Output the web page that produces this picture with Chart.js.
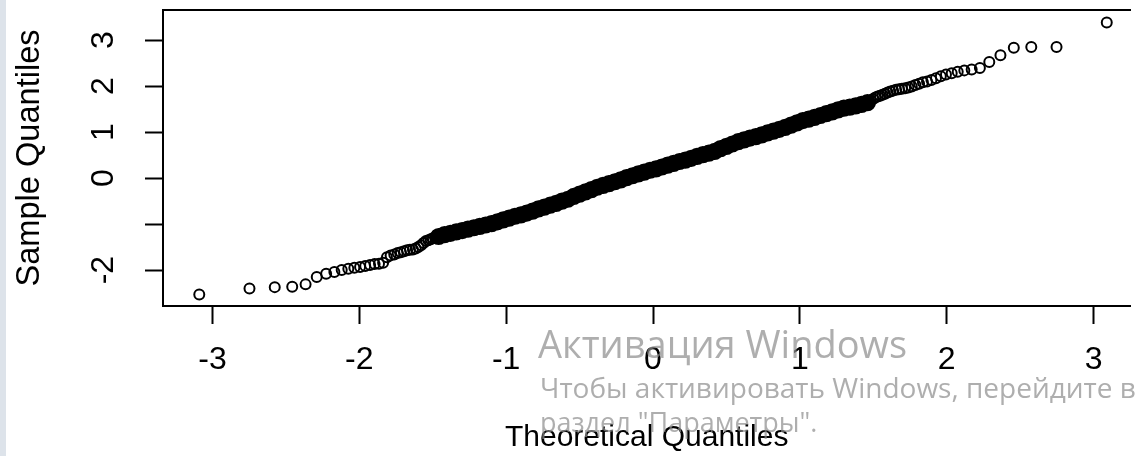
<!DOCTYPE html>
<html><head><meta charset="utf-8">
<script src="https://cdn.jsdelivr.net/npm/chart.js@4.4.0/dist/chart.umd.min.js"></script>
<style>
html,body{margin:0;padding:0;background:#fff;}
#wrap{position:relative;width:1140px;height:456px;overflow:hidden;background:#fff;}
#c{position:absolute;left:0;top:0;}
#bar{position:absolute;left:0;top:0;width:6px;height:456px;background:#dde3ea;}
.wm{position:absolute;color:rgba(140,140,140,0.7);font-family:"Open Sans","Noto Sans",sans-serif;white-space:nowrap;pointer-events:none;line-height:1;}
</style></head><body>
<div id="wrap"><canvas id="c" width="1140" height="456"></canvas><div id="bar"></div>
<div class="wm" style="left:538px;top:324px;font-size:38px;">Активация Windows</div>
<div class="wm" style="left:540px;top:373px;font-size:28px;">Чтобы активировать Windows, перейдите в</div>
<div class="wm" style="left:540px;top:408px;font-size:27px;">раздел "Параметры".</div>
</div>
<script>
const leftTailTheo = [-3.090,-2.748,-2.576,-2.457,-2.366,-2.290,-2.226,-2.170,-2.120,-2.075,-2.034,-1.995,-1.960,-1.927,-1.896,-1.866,-1.838,-1.812,-1.787,-1.762,-1.739,-1.717,-1.695,-1.675,-1.655,-1.635,-1.616,-1.598,-1.580,-1.563,-1.546,-1.530,-1.514,-1.499,-1.483];
const leftTailSample = [-2.53,-2.40,-2.37,-2.36,-2.31,-2.15,-2.08,-2.04,-2.00,-1.97,-1.95,-1.93,-1.91,-1.89,-1.87,-1.86,-1.84,-1.72,-1.68,-1.66,-1.63,-1.61,-1.59,-1.57,-1.56,-1.55,-1.53,-1.50,-1.46,-1.41,-1.37,-1.35,-1.33,-1.31,-1.29];
const bandTheo = [-1.46,-1.42,-1.38,-1.34,-1.30,-1.26,-1.22,-1.18,-1.14,-1.10,-1.06,-1.02,-0.98,-0.94,-0.90,-0.86,-0.82,-0.78,-0.74,-0.70,-0.66,-0.62,-0.58,-0.54,-0.50,-0.46,-0.42,-0.38,-0.34,-0.30,-0.26,-0.22,-0.18,-0.14,-0.10,-0.06,-0.02,0.02,0.06,0.10,0.14,0.18,0.22,0.26,0.30,0.34,0.38,0.42,0.46,0.50,0.54,0.58,0.62,0.66,0.70,0.74,0.78,0.82,0.86,0.90,0.94,0.98,1.02,1.06,1.10,1.14,1.18,1.22,1.26,1.30,1.34,1.38,1.42,1.46];
const bandSample = [-1.27,-1.23,-1.20,-1.17,-1.14,-1.11,-1.08,-1.05,-1.02,-0.99,-0.95,-0.91,-0.87,-0.83,-0.80,-0.76,-0.72,-0.67,-0.63,-0.59,-0.55,-0.50,-0.46,-0.40,-0.35,-0.30,-0.25,-0.20,-0.16,-0.12,-0.08,-0.04,0.01,0.05,0.09,0.13,0.17,0.20,0.24,0.28,0.32,0.36,0.39,0.43,0.47,0.51,0.54,0.58,0.64,0.69,0.74,0.79,0.83,0.87,0.90,0.94,0.98,1.02,1.06,1.10,1.15,1.20,1.25,1.28,1.32,1.36,1.40,1.44,1.48,1.52,1.54,1.57,1.60,1.64];
const rightTailTheo = [1.483,1.499,1.514,1.530,1.546,1.563,1.580,1.598,1.616,1.635,1.655,1.675,1.695,1.717,1.739,1.762,1.787,1.812,1.838,1.866,1.896,1.927,1.960,1.995,2.034,2.075,2.120,2.170,2.226,2.290,2.366,2.457,2.576,2.748,3.090];
const rightTailSample = [1.69,1.72,1.75,1.77,1.79,1.81,1.83,1.86,1.88,1.90,1.92,1.93,1.94,1.95,1.97,1.99,2.02,2.05,2.08,2.10,2.13,2.17,2.21,2.25,2.28,2.31,2.34,2.36,2.39,2.52,2.67,2.83,2.85,2.85,3.38];
const xTicks = [-3,-2,-1,0,1,2,3];
const yTicks = [-2,-1,0,1,2,3];
const yHiddenLabels = [-1];
const xTitle = 'Theoretical Quantiles';
const yTitle = 'Sample Quantiles';

const toPts = (xs, ys) => xs.map((x, i) => ({x: x, y: ys[i]}));
const tailPts = toPts(leftTailTheo, leftTailSample).concat(toPts(rightTailTheo, rightTailSample));
const bandPts = toPts(bandTheo, bandSample);

const xMin = -3.337, xMax = 3.251, yMin = -2.78, yMax = 3.652;
const sans = '"Liberation Sans", Arial, sans-serif';

new Chart(document.getElementById('c'), {
  type: 'scatter',
  data: { datasets: [
    { data: bandPts, pointRadius: 7.6, pointBorderWidth: 2, pointBorderColor: '#000', pointBackgroundColor: '#000', pointHoverRadius: 7.6 },
    { data: tailPts, pointRadius: 5, pointBorderWidth: 2, pointBorderColor: '#000', pointBackgroundColor: 'rgba(0,0,0,0)', pointHoverRadius: 5 }
  ]},
  options: {
    responsive: false, animation: false, events: [],
    layout: { padding: { left: 0, right: 0, top: 10, bottom: 0 } },
    plugins: { legend: { display: false }, tooltip: { enabled: false } },
    scales: {
      x: {
        type: 'linear', position: 'bottom', min: xMin, max: xMax,
        afterBuildTicks: s => { s.ticks = xTicks.map(v => ({value: v})); },
        afterFit: s => { s.height = 150; s.paddingLeft = 0; s.paddingRight = 0; },
        grid: { drawOnChartArea: false, drawTicks: true, tickLength: 18, tickWidth: 2, tickColor: '#000' },
        border: { display: true, color: '#000', width: 2 },
        ticks: { color: '#000', font: { family: sans, size: 32 }, padding: 17, maxRotation: 0, minRotation: 0, autoSkip: false,
                 callback: v => String(v) },
        title: { display: true, text: xTitle, color: '#000', font: { family: sans, size: 30, lineHeight: 1 }, padding: { top: 0, bottom: 3 } }
      },
      xTop: {
        type: 'linear', position: 'top', min: xMin, max: xMax,
        afterFit: s => { s.height = 0; s.paddingLeft = 0; s.paddingRight = 0; },
        grid: { display: false }, ticks: { display: false },
        border: { display: true, color: '#000', width: 2 }
      },
      y: {
        type: 'linear', position: 'left', min: yMin, max: yMax,
        afterBuildTicks: s => { s.ticks = yTicks.map(v => ({value: v})); },
        afterFit: s => { s.width = 163; s.paddingTop = 0; s.paddingBottom = 0; },
        grid: { drawOnChartArea: false, drawTicks: true, tickLength: 18, tickWidth: 2, tickColor: '#000' },
        border: { display: true, color: '#000', width: 2 },
        ticks: { color: '#000', font: { family: sans, size: 32 }, padding: 27, minRotation: 90, maxRotation: 90, crossAlign: 'center', autoSkip: false,
                 callback: v => yHiddenLabels.includes(v) ? '' : String(v) },
        title: { display: true, text: yTitle, color: '#000', font: { family: sans, size: 32.6, lineHeight: 1 }, padding: { top: 14, bottom: 0 } }
      }
    }
  }
});
</script>
</body></html>
